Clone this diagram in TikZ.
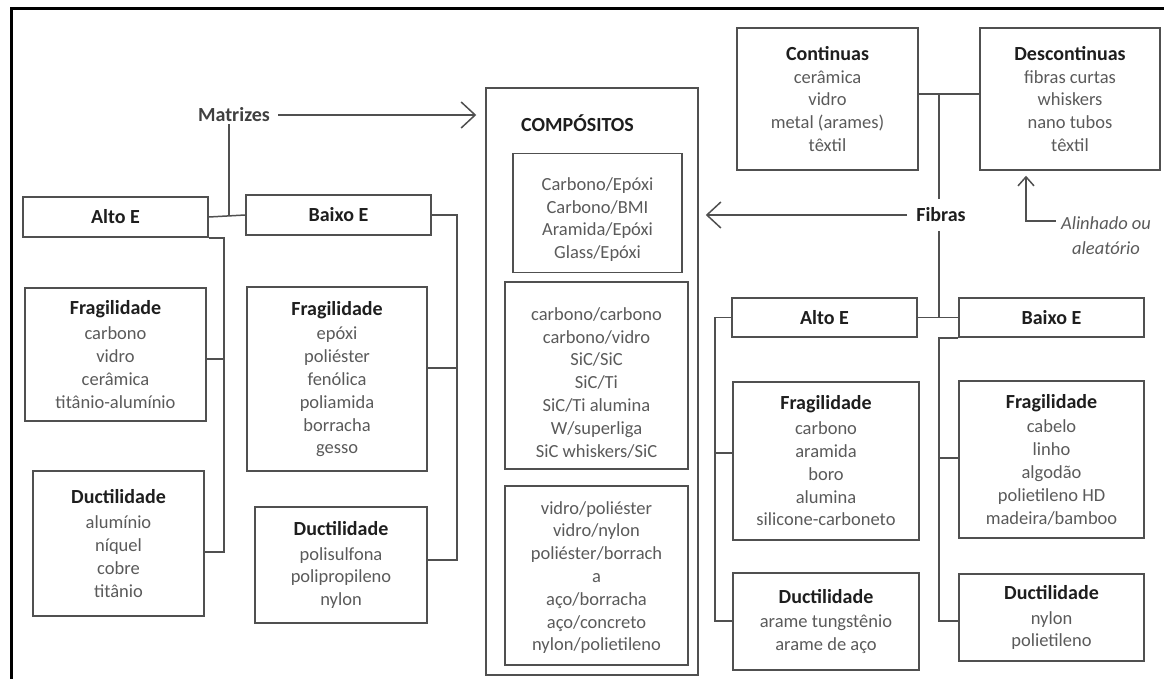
\documentclass[tikz,border=0pt]{standalone}
\usepackage{fontspec}
\setmainfont{Carlito}
\usetikzlibrary{arrows.meta}

\definecolor{linec}{HTML}{505050}
\definecolor{itemc}{HTML}{5A5A5A}
\definecolor{headc}{HTML}{1E1E1E}

% bold heading line inside a box
\newcommand{\hd}[1]{{\fontsize{20}{24}\selectfont\bfseries\color{headc}#1}}
% invisible strut that lowers a text block inside its box
\newcommand{\lowr}[1]{\rule{0pt}{#1pt}}

\tikzset{
  box/.style={draw=linec, line width=1.5pt, inner sep=0pt, align=center,
              text=itemc, font=\fontsize{18.5}{22.8}\selectfont},
  wh/.style 2 args={minimum width=#1pt, minimum height=#2pt},
  lbl/.style={inner sep=1pt, font=\fontsize{20}{24}\selectfont\bfseries, text=headc},
  ebox/.style={box, font=\fontsize{20}{24}\selectfont\bfseries, text=headc},
  conn/.style={draw=linec, line width=1.5pt},
  chev/.style={conn, -{Straight Barb[length=14pt,width=26pt,line width=1.5pt]}},
  smallchev/.style={conn, -{Straight Barb[length=9pt,width=16pt,line width=1.5pt]}},
}

\begin{document}
\begin{tikzpicture}[x=1pt,y=-1pt]
\useasboundingbox (0,0) rectangle (1164,679);

% outer frame
\draw[line width=3pt, black] (11,679) -- (11,9) -- (1164,9);

% ---------------- Matrizes ----------------
\node[lbl, text=headc!85!white] (mat) at (234,115) {Matrizes};
\node[ebox, wh={185}{40}] (altoL) at (115.5,217) {Alto E};
\node[ebox, wh={185}{40}] (baixoL) at (338.5,215) {Baixo E};

\node[box, wh={181}{133}] (fragL) at (115.5,354.5)
  {\hd{Fragilidade}\\[2pt]carbono\\vidro\\cerâmica\\titânio-alumínio};
\node[box, wh={171}{145}] (ductL) at (118.5,543.5)
  {\hd{Ductilidade}\\[2pt]alumínio\\níquel\\cobre\\titânio};
\node[box, wh={180}{184}] (fragM) at (337,379)
  {\hd{Fragilidade}\\[2pt]epóxi\\poliéster\\fenólica\\poliamida\\borracha\\gesso};
\node[box, wh={172}{116}] (ductM) at (341,565)
  {\hd{Ductilidade}\\[2pt]polisulfona\\polipropileno\\nylon};

% ---------------- Compósitos ----------------
\node[box, wh={212}{587}] (comp) at (592,381.5) {};
\node[lbl, anchor=west] (ctitle) at (520,123) {COMPÓSITOS};
\node[box, wh={169}{119}] (c1) at (597.5,213)
  {\lowr{26}Carbono/Epóxi\\Carbono/BMI\\Aramida/Epóxi\\Glass/Epóxi};
\node[box, wh={183}{187}] (c2) at (596.5,375.5)
  {\lowr{27}carbono/carbono\\carbono/vidro\\SiC/SiC\\SiC/Ti\\SiC/Ti alumina\\W/superliga\\SiC whiskers/SiC};
\node[box, wh={183}{179}] (c3) at (596.5,575.5)
  {\lowr{17}vidro/poliéster\\vidro/nylon\\poliéster/borrach\\a\\aço/borracha\\aço/concreto\\nylon/polietileno};

% ---------------- Fibras ----------------
\node[box, wh={181}{142}] (cont) at (827.5,99)
  {\hd{Continuas}\\cerâmica\\vidro\\metal (arames)\\têxtil};
\node[box, wh={180}{142}] (desc) at (1070,99)
  {\hd{Descontinuas}\\fibras curtas\\whiskers\\nano tubos\\têxtil};
\node[lbl] (fib) at (941,215) {Fibras};
\node[inner sep=1pt, align=center, text=itemc, font=\fontsize{18.5}{25}\selectfont\itshape]
  (ali) at (1106,236) {Alinhado ou\\aleatório};

\node[ebox, wh={185}{39}] (altoR) at (824.5,317.5) {Alto E};
\node[ebox, wh={185}{39}] (baixoR) at (1051.5,317.5) {Baixo E};

\node[box, wh={186}{158}] (fragRA) at (826,461)
  {\hd{Fragilidade}\\[2pt]carbono\\aramida\\boro\\alumina\\silicone-carboneto};
\node[box, wh={186}{97}] (ductRA) at (826,621.5)
  {\hd{Ductilidade}\\[2pt]arame tungstênio\\arame de aço};
\node[box, wh={185}{157}] (fragRB) at (1051.5,459.5)
  {\hd{Fragilidade}\\[2pt]cabelo\\linho\\algodão\\polietileno HD\\madeira/bamboo};
\node[box, wh={185}{87}] (ductRB) at (1051.5,617.5)
  {\hd{Ductilidade}\\[2pt]nylon\\polietileno};

% ---------------- connectors: Matrizes ----------------
\coordinate (mj) at (229,215);
\draw[conn] (altoL.east) -- (baixoL.west);
\draw[conn] ([yshift=-1pt]mat.south -| mj) -- (mj);
\draw[chev, shorten <=7pt] (mat.east) -- ([xshift=-9pt]comp.west |- mat.east);

\coordinate (tA) at (224,552);
\draw[conn] (altoL.south east) -| (tA) -- (tA -| ductL.east);
\draw[conn] ([yshift=-4.5pt]fragL.east) -- ([yshift=-4.5pt]fragL.east -| tA);

\coordinate (tB) at (457,560);
\draw[conn] (baixoL.east) -| (tB) -- (tB -| ductM.east);
\draw[conn] ([yshift=11pt]fragM.east) -- ([yshift=11pt]fragM.east -| tB);

% ---------------- connectors: Fibras ----------------
\coordinate (fj) at (939,94);
\draw[conn] ([yshift=5pt]cont.east) -- ([yshift=5pt]desc.west);
\draw[conn] (fj) -- ([yshift=8pt]fib.north -| fj);
\draw[chev, shorten <=8pt] (fib.west) -- ([xshift=7pt]comp.east |- fib.west);
\draw[conn] ([yshift=-8pt]fib.south -| fj) -- (fj |- altoR.east);
\draw[conn] (altoR.east) -- (baixoR.west);

\coordinate (tC) at (715,621);
\draw[conn] (altoR.west) -| (tC) -- (tC -| ductRA.west);
\draw[conn] ([yshift=8pt]fragRA.west) -- ([yshift=8pt]fragRA.west -| tC);

\coordinate (tD) at (939,621);
\draw[conn] (baixoR.south west) -| (tD) -- (tD -| ductRB.west);
\draw[conn] ([yshift=1.5pt]fragRB.west) -- ([yshift=1.5pt]fragRB.west -| tD);

\coordinate (aj) at (1026,221);
\draw[smallchev] ([xshift=-4pt]ali.west |- aj) -- (aj) -- ([yshift=-5pt]desc.south -| aj);
\end{tikzpicture}
\end{document}
